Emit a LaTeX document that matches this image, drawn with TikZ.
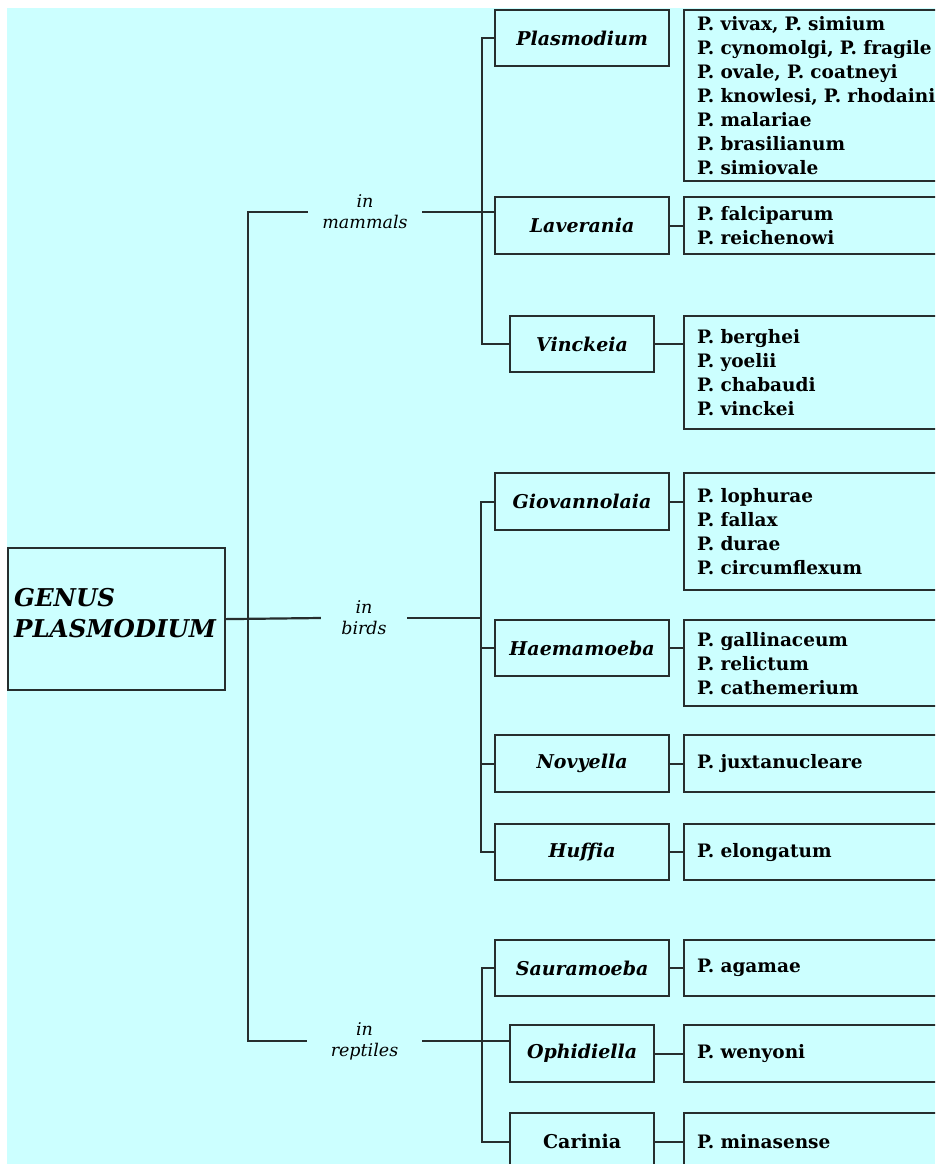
\documentclass[tikz,border=0pt]{standalone}
\usepackage{fontspec}
\setmainfont{DejaVu Serif}
\definecolor{bgc}{RGB}{204,255,255}
\definecolor{linec}{RGB}{38,46,46}
\begin{document}
\begin{tikzpicture}[x=1pt,y=-1pt,
  ln/.style={draw=linec,line width=2.2pt},
  gbox/.style={draw=linec,line width=2.2pt,anchor=north west,inner sep=0pt,
    font=\fontsize{19}{22}\selectfont\bfseries\itshape,text=black},
  sbox/.style={draw=linec,line width=2.2pt,anchor=north west,inner xsep=13pt,inner ysep=0pt,
    text width=300pt,align=left,font=\fontsize{18.5}{24}\selectfont\bfseries,text=black},
  lab/.style={inner sep=0pt,font=\fontsize{17.5}{21}\selectfont\itshape,align=center,
    minimum height=40pt,text=black}]
\useasboundingbox (0,0) rectangle (935,1164);
\fill[white] (0,0) rectangle (935,1164);
\fill[bgc] (7,8) rectangle (935,1164);
\clip (0,0) rectangle (935,1164);

% root
\node[draw=linec,line width=2.2pt,anchor=north west,minimum width=217pt,minimum height=142pt,
  inner xsep=6pt,text width=205pt,align=left,
  font=\fontsize{24.5}{31}\selectfont\bfseries\itshape] (root) at (7,547)
  {GENUS\\PLASMODIUM\vrule width 0pt depth 12pt};

% host labels
\node[lab,minimum width=114pt] (ml) at (365,212) {in\\mammals};
\node[lab,minimum width=86pt] (bl) at (364,618) {in\\birds};
\node[lab,minimum width=115pt] (rl) at (364.5,1041) {in\\reptiles};

% junction x positions
\coordinate (tx) at (248,0);
\coordinate (mx) at (482,0);
\coordinate (bx) at (481,0);
\coordinate (rx) at (482,0);

% genus (subgenus) boxes
\node[gbox,minimum width=174pt,minimum height=56pt] (g1) at (494,9) {Plasmodium};
\node[gbox,minimum width=174pt,minimum height=57pt] (g2) at (494,196) {Laverania};
\node[gbox,minimum width=144pt,minimum height=56pt] (g3) at (509,315) {Vinckeia};
\node[gbox,minimum width=174pt,minimum height=57pt] (g4) at (494,472) {Giovannolaia};
\node[gbox,minimum width=174pt,minimum height=56pt] (g5) at (494,619) {Haemamoeba};
\node[gbox,minimum width=174pt,minimum height=57pt] (g6) at (494,734) {Novyella};
\node[gbox,minimum width=174pt,minimum height=56pt] (g7) at (494,823) {Huffia};
\node[gbox,minimum width=174pt,minimum height=56pt] (g8) at (494,939) {Sauramoeba};
\node[gbox,minimum width=144pt,minimum height=57pt] (g9) at (509,1024) {Ophidiella};
\node[gbox,minimum width=144pt,minimum height=57pt,font=\fontsize{19}{22}\selectfont\bfseries] (g10) at (509,1112) {Carinia};

% species boxes
\node[sbox,minimum height=171pt] (s1) at (683,9) {P. vivax, P. simium\\P. cynomolgi, P. fragile\\P. ovale, P. coatneyi\\P. knowlesi, P. rhodaini\\P. malariae\\P. brasilianum\\P. simiovale};
\node[sbox,minimum height=57pt] (s2) at (683,196) {P. falciparum\\P. reichenowi};
\node[sbox,minimum height=113pt] (s3) at (683,315) {P. berghei\\P. yoelii\\P. chabaudi\\P. vinckei};
\node[sbox,minimum height=117pt] (s4) at (683,472) {P. lophurae\\P. fallax\\P. durae\\P. circumflexum};
\node[sbox,minimum height=86pt] (s5) at (683,619) {P. gallinaceum\\P. relictum\\P. cathemerium};
\node[sbox,minimum height=57pt] (s6) at (683,734) {P. juxtanucleare};
\node[sbox,minimum height=56pt] (s7) at (683,823) {P. elongatum};
\node[sbox,minimum height=56pt] (s8) at (683,939) {P. agamae};
\node[sbox,minimum height=57pt] (s9) at (683,1024) {P. wenyoni};
\node[sbox,minimum height=57pt] (s10) at (683,1112) {P. minasense};

% trunk
\draw[ln] (ml.west) -- (ml.west -| tx) |- (rl.west);
\draw[ln] (root.east) -- (bl.west);

% mammals
\draw[ln] (ml.east) -- (ml.east -| g2.west);
\draw[ln] (g1.west) -- (g1.west -| mx) |- (g3.west);

% birds
\draw[ln] (bl.east) -- (bl.east -| bx);
\draw[ln] (g4.west) -- (g4.west -| bx) |- (g7.west);
\draw[ln] (g5.west) -- (g5.west -| bx);
\draw[ln] (g6.west) -- (g6.west -| bx);

% reptiles
\draw[ln] (rl.east) -- (rl.east -| g9.west);
\draw[ln] (g8.west) -- (g8.west -| rx) |- (g10.west);

% genus to species
\foreach \i in {2,...,10} {
  \draw[ln] (g\i.east) -- (g\i.east -| s\i.west);
}
\end{tikzpicture}
\end{document}
